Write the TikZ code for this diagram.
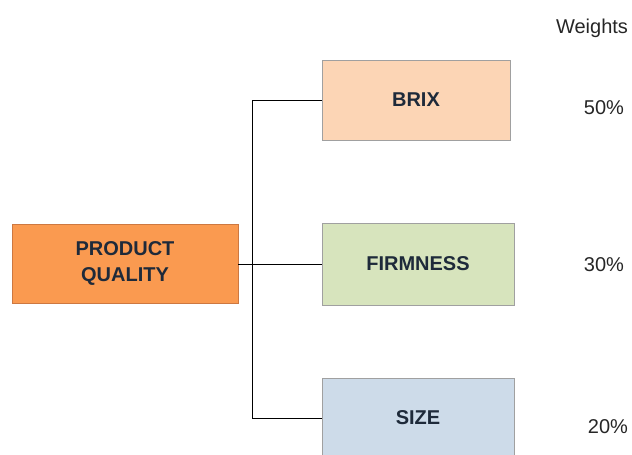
\documentclass[tikz,border=0pt]{standalone}
\usepackage{fontspec}
\setmainfont{Liberation Sans}

\definecolor{qualityfill}{RGB}{250,154,80}
\definecolor{qualityline}{RGB}{205,120,65}
\definecolor{brixfill}{RGB}{252,213,181}
\definecolor{firmfill}{RGB}{215,228,189}
\definecolor{sizefill}{RGB}{205,219,233}
\definecolor{boxline}{RGB}{160,160,160}
\definecolor{labelink}{RGB}{30,42,58}

\tikzset{every picture/.style={line width=0.75pt}}
\tikzset{
  critbox/.style={draw=boxline, line width=0.6pt, minimum width=141pt, minimum height=60pt,
    inner sep=0pt, font=\fontsize{15}{19}\selectfont\bfseries, text=labelink, align=center},
  weighttext/.style={inner sep=0.75pt, font=\fontsize{15}{17}\selectfont, text=black!85}
}

\begin{document}
\begin{tikzpicture}[x=0.75pt,y=0.75pt,yscale=-1,xscale=1]
\useasboundingbox (0,0) rectangle (632,454);
\clip (0,0) rectangle (632,454);

% Main box
\node [critbox, fill=qualityfill, draw=qualityline, minimum width=169.5pt, minimum height=59.25pt] (quality) at (125,263.5) {PRODUCT\\QUALITY};

% Criteria boxes
\node [critbox, fill=brixfill] (brix) at (416,100) {BRIX};
\node [critbox, fill=firmfill, minimum width=144pt, minimum height=61.5pt] (firmness) at (418,264) {FIRMNESS};
\node [critbox, fill=sizefill, minimum width=144pt] (size) at (418,418) {SIZE};

% Connectors
\coordinate (trunk) at (252,100);
\draw (brix.west) -- (trunk) |- (size.west);
\draw (quality.east |- firmness.west) -- (firmness.west);

% Weights
\node [weighttext] (weights) at (592,28) {Weights};
\node [weighttext] (wbrix) at (604,108) {50\%};
\node [weighttext] (wfirm) at (604,265) {30\%};
\node [weighttext] (wsize) at (608,427) {20\%};

\end{tikzpicture}
\end{document}
